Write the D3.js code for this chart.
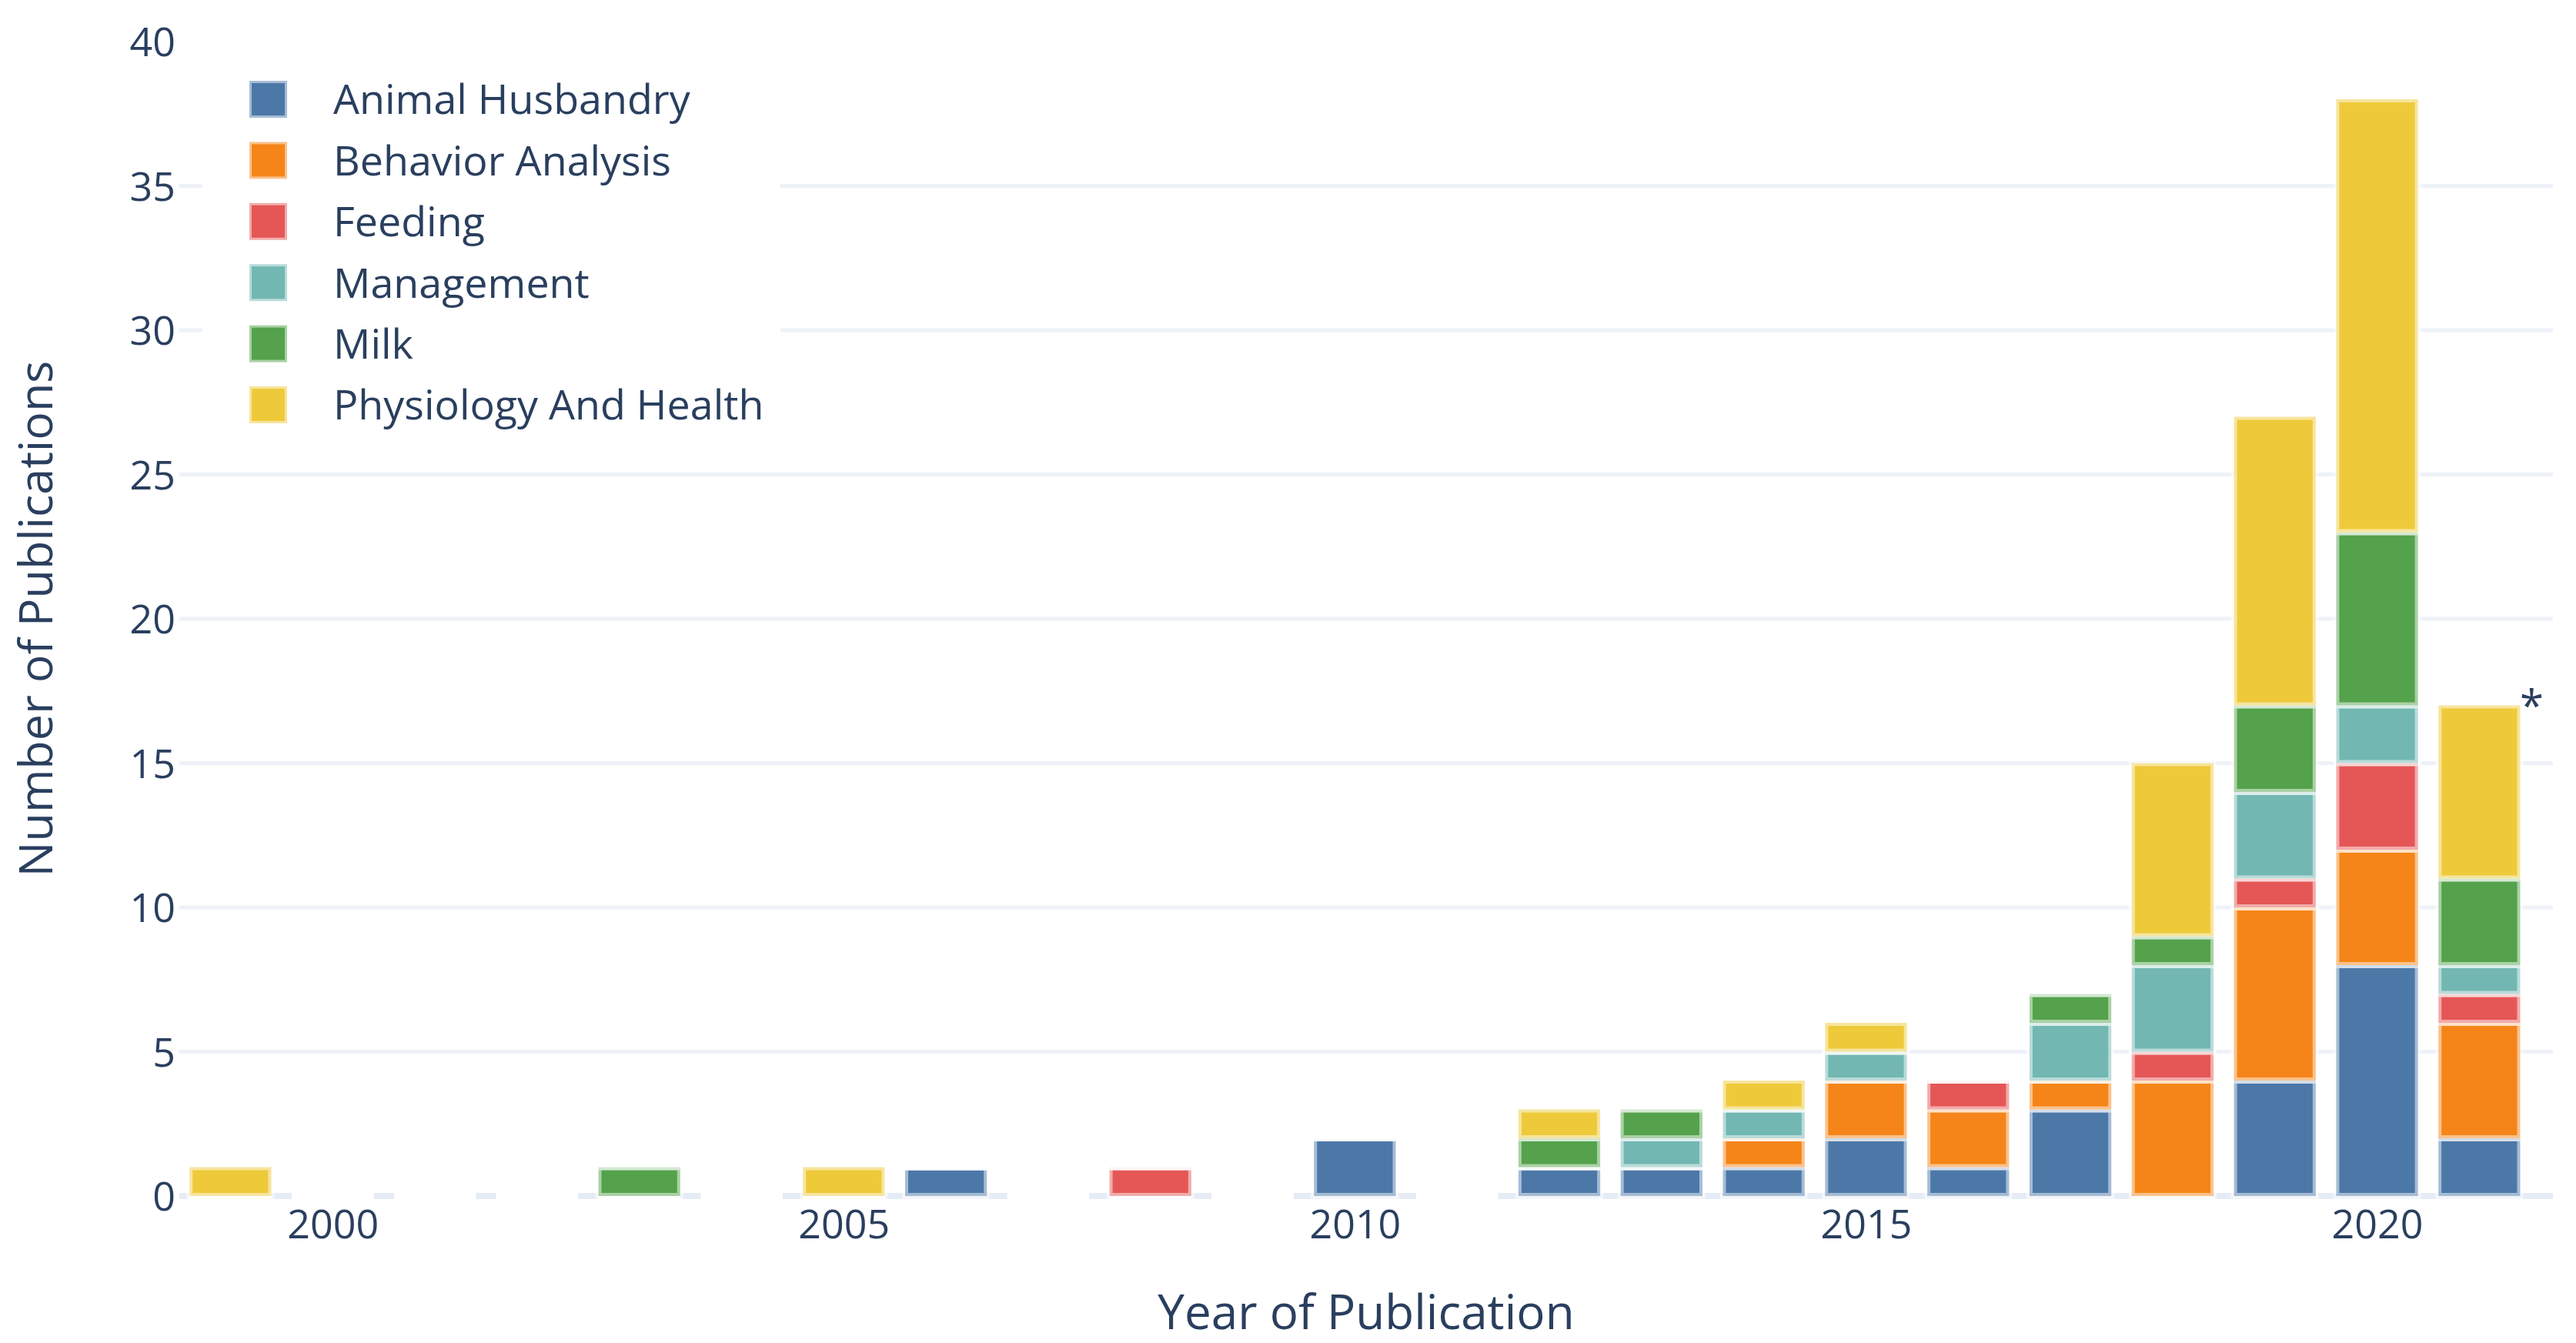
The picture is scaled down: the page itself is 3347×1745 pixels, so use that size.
<!DOCTYPE html>
<html>
<head>
<meta charset="utf-8">
<script src="https://cdn.jsdelivr.net/npm/d3@7"></script>
<style>
  html, body { margin: 0; padding: 0; background: #ffffff; }
  svg { display: block; }
  text { font-family: "Open Sans", "Noto Sans", sans-serif; fill: #2a3f5f; }
</style>
</head>
<body>
<script>
// ---------- data ----------
const years = [1999, 2000, 2001, 2002, 2003, 2004, 2005, 2006, 2007, 2008, 2009, 2010,
               2011, 2012, 2013, 2014, 2015, 2016, 2017, 2018, 2019, 2020, 2021];
const seriesNames = ["Animal Husbandry", "Behavior Analysis", "Feeding", "Management", "Milk", "Physiology And Health"];
const seriesColors = ["#4C78A8", "#F58518", "#E45756", "#72B7B2", "#54A24B", "#EECA3B"];
const animalHusbandry = [0,0,0,0,0,0,0,1,0,0,0,2, 0,1,1,1,2,1,3,0,4,8,2];
const behaviorAnalysis = [0,0,0,0,0,0,0,0,0,0,0,0, 0,0,0,1,2,2,1,4,6,4,4];
const feeding          = [0,0,0,0,0,0,0,0,0,1,0,0, 0,0,0,0,0,1,0,1,1,3,1];
const management       = [0,0,0,0,0,0,0,0,0,0,0,0, 0,0,1,1,1,0,2,3,3,2,1];
const milk             = [0,0,0,0,1,0,0,0,0,0,0,0, 0,1,1,0,0,0,1,1,3,6,3];
const physiology       = [1,0,0,0,0,0,1,0,0,0,0,0, 0,1,0,1,1,0,0,6,10,15,6];
const seriesValues = [animalHusbandry, behaviorAnalysis, feeding, management, milk, physiology];
const xTickValues = [2000, 2005, 2010, 2015, 2020];
const yTickValues = [0, 5, 10, 15, 20, 25, 30, 35, 40];
const xTitle = "Year of Publication";
const yTitle = "Number of Publications";
const noteYear = 2021, noteText = "*";

// ---------- layout ----------
const W = 3347, H = 1745;
const plot = { left: 233, right: 3317, top: 54, bottom: 1554 };

const svg = d3.select("body").append("svg").attr("width", W).attr("height", H);
svg.append("rect").attr("width", W).attr("height", H).attr("fill", "#ffffff");

const x = d3.scaleLinear().domain([1998.5, 2021.72]).range([plot.left, plot.right]);
const y = d3.scaleLinear().domain([0, 40]).range([plot.bottom, plot.top]);
const step = x(1) - x(0);
const bw = step * 0.8;

// gridlines
svg.append("g").selectAll("line").data(yTickValues.filter(v => v > 0 && v < 40)).join("line")
  .attr("x1", plot.left).attr("x2", plot.right)
  .attr("y1", d => y(d)).attr("y2", d => y(d))
  .attr("stroke", "#EEF2F8").attr("stroke-width", 5);
// zero line
svg.append("line").attr("x1", plot.left).attr("x2", plot.right)
  .attr("y1", y(0)).attr("y2", y(0)).attr("stroke", "#E6ECF5").attr("stroke-width", 8);

// stacked bars
const table = years.map((yr, i) => {
  const row = { year: yr };
  seriesNames.forEach((s, k) => row[s] = seriesValues[k][i]);
  return row;
});
const stacked = d3.stack().keys(seriesNames)(table);

const barsG = svg.append("g");
stacked.forEach((layer, k) => {
  const g = barsG.append("g");
  layer.forEach(seg => {
    const x0 = x(seg.data.year) - bw / 2;
    const yTop = y(seg[1]), yBot = y(seg[0]);
    if (seg[1] - seg[0] > 0) {
      g.append("rect").attr("x", x0).attr("y", yTop).attr("width", bw).attr("height", yBot - yTop)
        .attr("fill", seriesColors[k])
        .attr("stroke", "#ffffff").attr("stroke-opacity", 0.5).attr("stroke-width", 8);
    } else {
      g.append("path").attr("d", `M${x0},${yTop}h${bw}`)
        .attr("stroke", "#ffffff").attr("stroke-opacity", 0.5).attr("stroke-width", 8).attr("fill", "none");
    }
  });
});

// axes
const xAxis = svg.append("g").attr("transform", `translate(0,${plot.bottom})`)
  .call(d3.axisBottom(x).tickValues(xTickValues).tickFormat(d3.format("d")).tickSize(0).tickPadding(0));
xAxis.select(".domain").remove();
xAxis.selectAll("text").attr("font-size", 52).attr("dy", null).attr("y", 55)
  .attr("fill", "#2a3f5f").style("font-family", '"Open Sans", sans-serif');

const yAxis = svg.append("g").attr("transform", `translate(${plot.left},0)`)
  .call(d3.axisLeft(y).tickValues(yTickValues).tickFormat(d3.format("d")).tickSize(0).tickPadding(0));
yAxis.select(".domain").remove();
yAxis.selectAll("text").attr("font-size", 52).attr("x", -5).attr("dy", "0.36em")
  .attr("fill", "#2a3f5f").style("font-family", '"Open Sans", sans-serif');

// titles
svg.append("text").attr("x", (plot.left + plot.right) / 2).attr("y", 1727)
  .attr("text-anchor", "middle").attr("font-size", 62).text(xTitle);
svg.append("text").attr("transform", `translate(68,${(plot.top + plot.bottom) / 2}) rotate(-90)`)
  .attr("text-anchor", "middle").attr("font-size", 61).text(yTitle);

// annotation
const noteIdx = years.indexOf(noteYear);
const noteTotal = d3.sum(seriesValues, s => s[noteIdx]);
svg.append("text").attr("x", x(noteYear) + bw / 2 + 15).attr("y", y(noteTotal) + 20)
  .attr("text-anchor", "middle").attr("font-size", 56).text(noteText);

// legend
const legend = svg.append("g");
legend.append("rect").attr("x", 263).attr("y", 82).attr("width", 751).attr("height", 480).attr("fill", "#ffffff");
seriesNames.forEach((name, k) => {
  const cy = 129 + k * 79.4;
  legend.append("rect").attr("x", 324).attr("y", cy - 24).attr("width", 49).attr("height", 48)
    .attr("fill", seriesColors[k]).attr("stroke", "#ffffff").attr("stroke-opacity", 0.5).attr("stroke-width", 6);
  legend.append("text").attr("x", 433).attr("y", cy).attr("dy", "0.36em").attr("font-size", 53.8).text(name);
});
</script>
</body>
</html>
